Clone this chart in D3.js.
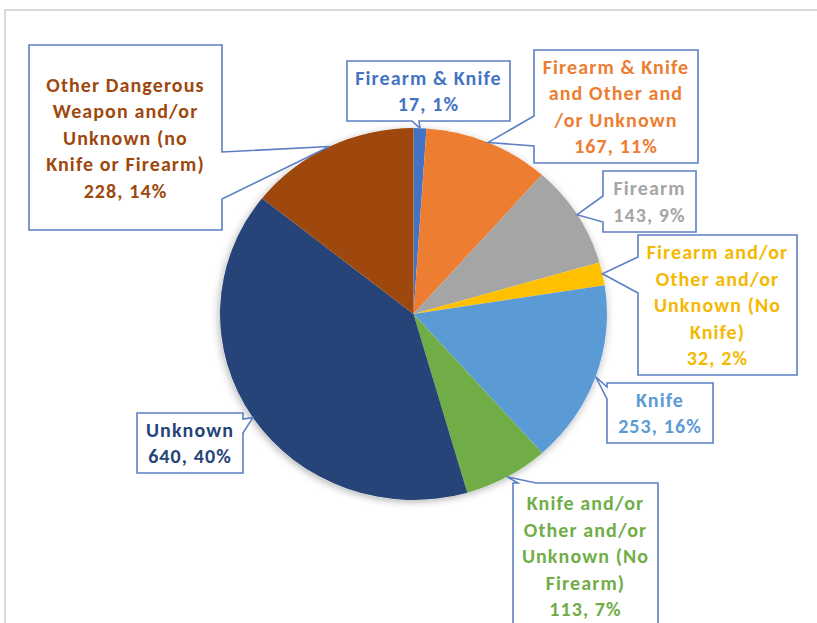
<!DOCTYPE html>
<html>
<head>
<meta charset="utf-8">
<script src="https://cdn.jsdelivr.net/npm/d3@7"></script>
<style>
  body { margin: 0; background: #fff; }
  svg { display: block; }
  .lbl { font-family: Carlito, Calibri, Lato, "Open Sans", sans-serif; font-weight: bold; font-size: 20px; letter-spacing: 1.1px; }
</style>
</head>
<body>
<svg id="chart" width="817" height="623"></svg>
<script>

/*
 * DATA
 */

var categories = [
  "Firearm & Knife",
  "Firearm & Knife\nand Other and\n/or Unknown",
  "Firearm",
  "Firearm and/or\nOther and/or\nUnknown (No\nKnife)",
  "Knife",
  "Knife and/or\nOther and/or\nUnknown (No\nFirearm)",
  "Unknown",
  "Other Dangerous\nWeapon and/or\nUnknown (no\nKnife or Firearm)"
];
var counts = [17, 167, 143, 32, 253, 113, 640, 228];
var percents = [1, 11, 9, 2, 16, 7, 40, 14];
var colors = ["#4472C4", "#ED7D31", "#A5A5A5", "#FFC000", "#5B9BD5", "#70AD47", "#264478", "#9E480E"];
var textColors = ["#4472C4", "#ED7D31", "#A5A5A5", "#F5B800", "#5B9BD5", "#70AD47", "#264478", "#9E480E"];

/*
 * LAYOUT
 */

var pieCenter = { x: 413.5, y: 314 },
    rx = 193.5, ry = 186, r = 190;

// callout boxes: rect, side the wedge sits on, and where the wedge base starts/ends
var boxes = [
  { x: 347, y: 61,  w: 163, h: 60,  side: "bottom", b0: 412, b1: 419 },
  { x: 534, y: 50,  w: 164, h: 113, side: "left",   b0: 116, b1: 146 },
  { x: 603, y: 171, w: 93,  h: 61,  side: "left",   b0: 196, b1: 222 },
  { x: 638, y: 235, w: 159, h: 140, side: "left",   b0: 257, b1: 293 },
  { x: 607, y: 383, w: 106, h: 60,  side: "left",   b0: 387, b1: 399 },
  { x: 513, y: 483, w: 145, h: 146, side: "top",    b0: 518, b1: 536 },
  { x: 137, y: 413, w: 106, h: 60,  side: "right",  b0: 419, b1: 433 },
  { x: 29,  y: 45,  w: 193, h: 185, side: "right",  b0: 152, b1: 199 }
];

var lineHeight = 26.5;

var svg = d3.select("#chart");

var defs = svg.append("defs");
var shadow = defs.append("filter").attr("id", "shadow")
  .attr("x", "-20%").attr("y", "-20%").attr("width", "140%").attr("height", "140%");
shadow.append("feDropShadow")
  .attr("dx", -1).attr("dy", 2).attr("stdDeviation", 4)
  .attr("flood-color", "#000").attr("flood-opacity", 0.3);

// outer chart frame
svg.append("rect")
  .attr("x", 5).attr("y", 10).attr("width", 830).attr("height", 650)
  .attr("fill", "#fff").attr("stroke", "#d9d9d9").attr("stroke-width", 2);

/*
 * PIE
 */

var data = counts.map(function (c, i) {
  return { name: categories[i], count: c, pct: percents[i], color: colors[i], text: textColors[i], box: boxes[i] };
});

var pie = d3.pie().sort(null).value(function (d) { return d.count; });
var arcs = pie(data);
var arc = d3.arc().innerRadius(0).outerRadius(r);

var pieG = svg.append("g")
  .attr("transform", "translate(" + pieCenter.x + "," + pieCenter.y + ") scale(" + (rx / r) + "," + (ry / r) + ")");

pieG.append("circle").attr("r", r).attr("fill", "#fff").attr("filter", "url(#shadow)");

pieG.selectAll("path.slice")
  .data(arcs)
  .enter().append("path")
  .attr("class", "slice")
  .attr("d", arc)
  .attr("fill", function (d) { return d.data.color; });

/*
 * CALLOUTS
 */

function tipPoint(a) {
  var ang = (a.startAngle + a.endAngle) / 2;
  return [pieCenter.x + rx * Math.sin(ang), pieCenter.y - ry * Math.cos(ang)];
}

function calloutPath(b, tip) {
  var x0 = b.x, y0 = b.y, x1 = b.x + b.w, y1 = b.y + b.h;
  var p = [[x0, y0]];
  if (b.side === "top") { p.push([b.b0, y0], tip, [b.b1, y0]); }
  p.push([x1, y0]);
  if (b.side === "right") { p.push([x1, b.b0], tip, [x1, b.b1]); }
  p.push([x1, y1]);
  if (b.side === "bottom") { p.push([b.b1, y1], tip, [b.b0, y1]); }
  p.push([x0, y1]);
  if (b.side === "left") { p.push([x0, b.b1], tip, [x0, b.b0]); }
  return "M" + p.map(function (q) { return q[0] + "," + q[1]; }).join("L") + "Z";
}

var callouts = svg.selectAll("g.callout")
  .data(arcs)
  .enter().append("g")
  .attr("class", "callout");

callouts.append("path")
  .attr("d", function (d) { return calloutPath(d.data.box, tipPoint(d)); })
  .attr("fill", "#fff")
  .attr("stroke", "#5B7FC4")
  .attr("stroke-width", 1.6)
  .attr("stroke-linejoin", "miter");

callouts.each(function (d) {
  var b = d.data.box;
  var lines = d.data.name.split("\n").concat([d.data.count + ", " + d.data.pct + "%"]);
  var cy = b.y + b.h / 2 - (lines.length - 1) * lineHeight / 2;
  var t = d3.select(this).append("text")
    .attr("class", "lbl")
    .attr("fill", d.data.text)
    .attr("text-anchor", "middle");
  lines.forEach(function (ln, i) {
    t.append("tspan")
      .attr("x", b.x + b.w / 2)
      .attr("y", cy + i * lineHeight + 7)
      .text(ln);
  });
});

</script>
</body>
</html>
